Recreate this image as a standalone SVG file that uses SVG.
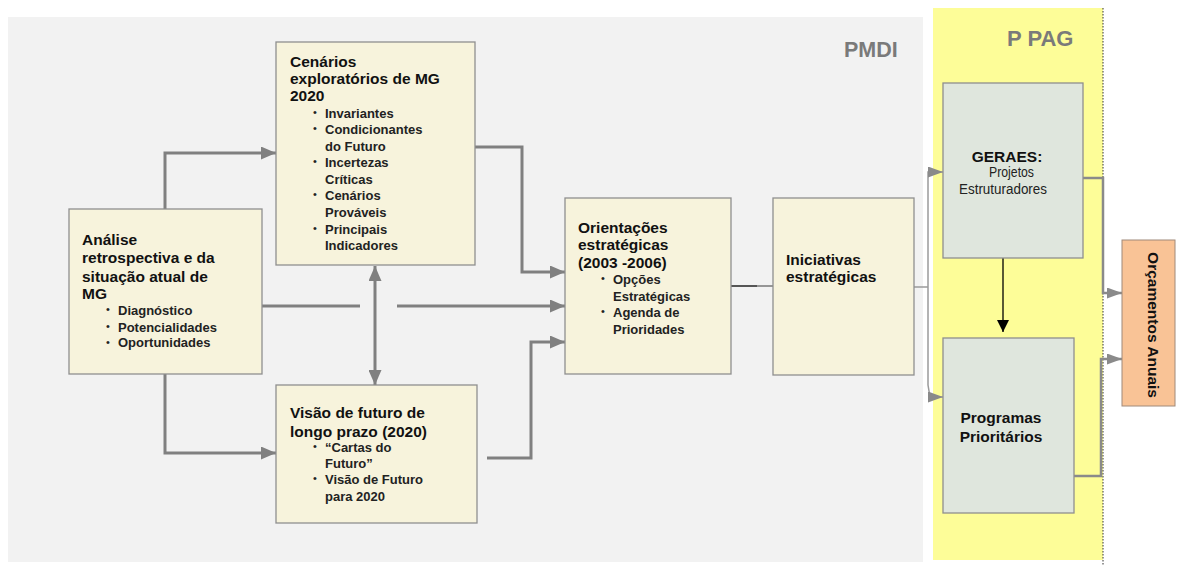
<svg xmlns="http://www.w3.org/2000/svg" width="1177" height="572" viewBox="0 0 1177 572">
<defs>
<style>
.box{fill:#f7f3dc;stroke:#8f8f8f;stroke-width:1.3}
.gbox{fill:#dfe6dd;stroke:#8f8f8f;stroke-width:1.3}
.t{font-family:"Liberation Sans",Arial,sans-serif;font-weight:bold;font-size:15.5px;fill:#111}
.s{font-family:"Liberation Sans",Arial,sans-serif;font-weight:bold;font-size:13px;fill:#222}
.r{font-family:"Liberation Sans",Arial,sans-serif;font-size:14px;fill:#222}
.bul{font-family:"Liberation Sans",Arial,sans-serif;font-size:11px;fill:#222}
.c{fill:none;stroke:#808080;stroke-width:3}
.thin{fill:none;stroke:#9a9a9a;stroke-width:1.5}
.hd{font-family:"Liberation Sans",Arial,sans-serif;font-weight:bold;fill:#7a7a7a}
</style>
<marker id="ah" markerUnits="userSpaceOnUse" markerWidth="15" markerHeight="13" refX="15" refY="6.5" orient="auto-start-reverse">
<path d="M0,0 L15,6.5 L0,13 Z" fill="#808080"/>
</marker>
<marker id="ahs" markerUnits="userSpaceOnUse" markerWidth="15" markerHeight="11" refX="15" refY="5.5" orient="auto">
<path d="M0,0 L15,5.5 L0,11 Z" fill="#8a8a8a"/>
</marker>
<marker id="ahb" markerUnits="userSpaceOnUse" markerWidth="12" markerHeight="12" refX="12" refY="6" orient="auto">
<path d="M0,0 L12,6 L0,12 Z" fill="#000"/>
</marker>
</defs>
<rect width="1177" height="572" fill="#ffffff"/>
<rect id="pmdi-panel" x="8" y="17" width="915" height="545" fill="#f2f2f2"/>
<rect id="ppag-panel" x="933" y="8" width="170" height="552" fill="#fdfd98"/>
<line x1="1103" y1="8" x2="1103" y2="566" stroke="#333" stroke-width="1" stroke-dasharray="1.5,1.5"/>
<text class="hd" x="844" y="57" font-size="21.5px">PMDI</text>
<text class="hd" x="1007" y="46" font-size="22px">P PAG</text>

<g id="connectors">
<path class="c" d="M165,209 V153 H276" marker-end="url(#ah)"/>
<path class="c" d="M165,374 V453 H276" marker-end="url(#ah)"/>
<path class="c" d="M262,306 H360"/>
<path class="c" d="M397,306 H565" marker-end="url(#ah)"/>
<path class="c" d="M375,266 V385" marker-start="url(#ah)" marker-end="url(#ah)"/>
<path class="c" d="M475,147 H522 V272 H565" marker-end="url(#ah)"/>
<path class="c" d="M487,458 H531 V342 H565" marker-end="url(#ah)"/>
<path d="M731,286 H757" stroke="#222" stroke-width="1.5" fill="none"/>
<path d="M757,286 H773" stroke="#777" stroke-width="1.5" fill="none"/>
<path class="thin" d="M914,287 H928"/>
<path class="thin" d="M928,287 V172 H943" marker-end="url(#ahs)"/>
<path class="thin" d="M928,287 V385 L930,397 H943" marker-end="url(#ahs)"/>
<path d="M1003,258 V332" stroke="#000" stroke-width="1.3" fill="none" marker-end="url(#ahb)"/>
<path d="M1083,178 H1103 V293 H1122" fill="none" stroke="#8a8a8a" stroke-width="2.5" marker-end="url(#ahs)"/>
<path d="M1074,476 H1101 V359 H1122" fill="none" stroke="#8a8a8a" stroke-width="2.5" marker-end="url(#ahs)"/>
</g>

<g id="cenarios">
<rect class="box" x="276" y="42" width="199" height="223"/>
<text class="t"><tspan x="290" y="67">Cenários</tspan><tspan x="290" y="84">exploratórios de MG</tspan><tspan x="290" y="101">2020</tspan></text>
<text class="bul"><tspan x="313" y="116">•</tspan><tspan x="313" y="132">•</tspan><tspan x="313" y="165">•</tspan><tspan x="313" y="198">•</tspan><tspan x="313" y="232">•</tspan></text>
<text class="s"><tspan x="325" y="118">Invariantes</tspan><tspan x="325" y="134">Condicionantes</tspan><tspan x="325" y="151">do Futuro</tspan><tspan x="325" y="167">Incertezas</tspan><tspan x="325" y="184">Críticas</tspan><tspan x="325" y="200">Cenários</tspan><tspan x="325" y="217">Prováveis</tspan><tspan x="325" y="234">Principais</tspan><tspan x="325" y="250">Indicadores</tspan></text>
</g>

<g id="analise">
<rect class="box" x="69" y="209" width="193" height="165"/>
<text class="t"><tspan x="82" y="245">Análise</tspan><tspan x="82" y="263">retrospectiva e da</tspan><tspan x="82" y="282">situação atual de</tspan><tspan x="82" y="299">MG</tspan></text>
<text class="bul"><tspan x="106" y="313">•</tspan><tspan x="106" y="330">•</tspan><tspan x="106" y="346">•</tspan></text>
<text class="s"><tspan x="118" y="315">Diagnóstico</tspan><tspan x="118" y="332">Potencialidades</tspan><tspan x="118" y="347">Oportunidades</tspan></text>
</g>

<g id="visao">
<rect class="box" x="276" y="385" width="201" height="138"/>
<text class="t"><tspan x="290" y="418">Visão de futuro de</tspan><tspan x="290" y="437">longo prazo (2020)</tspan></text>
<text class="bul"><tspan x="313" y="450">•</tspan><tspan x="313" y="482">•</tspan></text>
<text class="s"><tspan x="325" y="452">“Cartas do</tspan><tspan x="325" y="468">Futuro”</tspan><tspan x="325" y="484">Visão de Futuro</tspan><tspan x="325" y="501">para 2020</tspan></text>
</g>

<g id="orientacoes">
<rect class="box" x="565" y="198" width="166" height="176"/>
<text class="t"><tspan x="578" y="233">Orientações</tspan><tspan x="578" y="250">estratégicas</tspan><tspan x="578" y="268">(2003  -2006)</tspan></text>
<text class="bul"><tspan x="601" y="282">•</tspan><tspan x="601" y="315">•</tspan></text>
<text class="s"><tspan x="613" y="284">Opções</tspan><tspan x="613" y="301">Estratégicas</tspan><tspan x="613" y="317">Agenda de</tspan><tspan x="613" y="334">Prioridades</tspan></text>
</g>

<g id="iniciativas">
<rect class="box" x="773" y="198" width="141" height="177"/>
<text class="t"><tspan x="786" y="265">Iniciativas</tspan><tspan x="786" y="282">estratégicas</tspan></text>
</g>

<g id="geraes">
<rect class="gbox" x="943" y="83" width="140" height="175"/>
<text class="t" x="1007" y="162" text-anchor="middle">GERAES:</text>
<text class="r" x="989" y="177" textLength="45" lengthAdjust="spacingAndGlyphs">Projetos</text>
<text class="r" x="959" y="194" textLength="88" lengthAdjust="spacingAndGlyphs">Estruturadores</text>
</g>

<g id="programas">
<rect class="gbox" x="943" y="338" width="131" height="175"/>
<text class="t" text-anchor="middle"><tspan x="1001" y="423">Programas</tspan><tspan x="1001" y="442">Prioritários</tspan></text>
</g>

<g id="orcamentos">
<rect x="1122" y="240" width="53" height="166" fill="#f9c396" stroke="#a08a7a" stroke-width="1"/>
<text class="t" text-anchor="middle" transform="translate(1148,325) rotate(90)" x="0" y="0">Orçamentos Anuais</text>
</g>
</svg>
